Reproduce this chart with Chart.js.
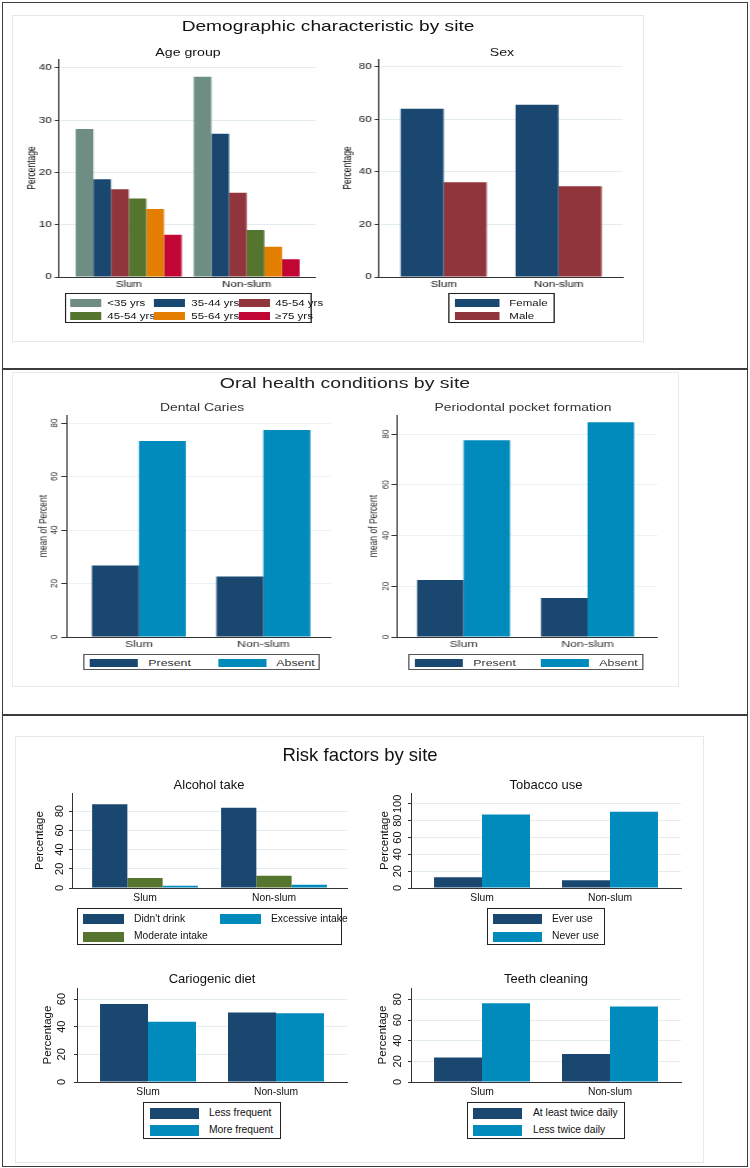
<!DOCTYPE html>
<html><head><meta charset="utf-8">
<script src="https://cdn.jsdelivr.net/npm/chart.js@4.4.1/dist/chart.umd.min.js"></script>
<style>
html,body{margin:0;padding:0;background:#fff;}
body{width:750px;height:1168px;position:relative;overflow:hidden;font-family:'Liberation Sans',Arial,Helvetica,sans-serif;}
.frame{position:absolute;box-sizing:border-box;}
</style></head>
<body>
<script>
// ---------------- DATA ----------------
const sites = ['Slum', 'Non-slum'];

const ageGroups = ['<35 yrs', '35-44 yrs', '45-54 yrs', '45-54 yrs', '55-64 yrs', '\u226575 yrs'];
const ageSlum = [28.3, 18.7, 16.8, 15.0, 13.0, 8.1];
const ageNonSlum = [38.3, 27.4, 16.1, 9.0, 5.8, 3.4];
const ageTicks = [0, 10, 20, 30, 40];

const sexGroups = ['Female', 'Male'];
const sexSlum = [64.0, 36.0];
const sexNonSlum = [65.5, 34.5];
const sexTicks = [0, 20, 40, 60, 80];

const conditionGroups = ['Present', 'Absent'];
const cariesSlum = [26.7, 73.3];
const cariesNonSlum = [22.6, 77.4];
const perioSlum = [22.5, 77.5];
const perioNonSlum = [15.4, 84.6];
const oralTicks = [0, 20, 40, 60, 80];

const alcoholGroups = ["Didn't drink", 'Moderate intake', 'Excessive intake'];
const alcoholSlum = [87.4, 10.3, 2.3];
const alcoholNonSlum = [83.7, 12.8, 3.5];
const alcoholTicks = [0, 20, 40, 60, 80];
const alcoholLegendOrder = [0, 2, 1];

const tobaccoGroups = ['Ever use', 'Never use'];
const tobaccoSlum = [12.7, 87.3];
const tobaccoNonSlum = [9.3, 90.7];
const tobaccoTicks = [0, 20, 40, 60, 80, 100];

const dietGroups = ['Less frequent', 'More frequent'];
const dietSlum = [56.5, 43.5];
const dietNonSlum = [50.2, 49.8];
const dietTicks = [0, 20, 40, 60];

const cleaningGroups = ['At least twice daily', 'Less twice daily'];
const cleaningSlum = [23.8, 76.2];
const cleaningNonSlum = [27.0, 73.0];
const cleaningTicks = [0, 20, 40, 60, 80];

// ---------------- STYLE ----------------
const COL = {navy:'#1a476f', maroon:'#90353b', green:'#55752f', orange:'#e37e00', teal:'#6e8e84', cranberry:'#c10534', blue:'#008bbc'};
const ageColors = [COL.teal, COL.navy, COL.maroon, COL.green, COL.orange, COL.cranberry];
const sexColors = [COL.navy, COL.maroon];
const pairColors = [COL.navy, COL.blue];
const alcoholColors = [COL.navy, COL.green, COL.blue];

const FONT = "'Liberation Sans', Arial, Helvetica, sans-serif";
const AXIS = '#333';
Chart.defaults.font.family = FONT;

// draws vertical (bottom-to-top) y tick labels from the y scale's own ticks
const rotTicks = {
  id: 'rotTicks',
  afterDraw(chart, args, o) {
    if (!o || !o.on) return;
    const sc = chart.scales.y, ctx = chart.ctx;
    ctx.save();
    ctx.font = o.size + 'px ' + FONT;
    ctx.fillStyle = o.color;
    ctx.textAlign = 'center';
    ctx.textBaseline = 'middle';
    sc.ticks.forEach(t => {
      const y = sc.getPixelForValue(t.value);
      ctx.save();
      ctx.translate(o.x, y);
      ctx.rotate(-Math.PI / 2);
      ctx.fillText(String(t.value), 0, 0);
      ctx.restore();
    });
    ctx.restore();
  }
};

function frame(x1, y1, x2, y2, css){
  const d = document.createElement('div'); d.className = 'frame';
  d.style.cssText += `left:${x1}px;top:${y1}px;width:${x2-x1}px;height:${y2-y1}px;${css}`;
  document.body.appendChild(d);
}
function mkPanel(sx){
  const el = document.createElement('div');
  el.style.cssText = `position:absolute;left:0;top:0;width:${750/sx}px;height:1168px;transform:scaleX(${sx});transform-origin:0 0;`;
  document.body.appendChild(el);
  return {el, sx, X: x => x / sx};
}
function label(p, txt, cx, cy, size, color){
  const d = document.createElement('div'); d.textContent = txt;
  d.style.cssText = `position:absolute;left:${p.X(cx)-250}px;width:500px;text-align:center;top:${cy-size*0.6}px;font-size:${size}px;line-height:${size*1.2}px;color:${color};white-space:nowrap;`;
  p.el.appendChild(d);
}
function legend(p, b, names, colors, order){
  const d = document.createElement('div');
  d.style.cssText = `position:absolute;left:${p.X(b.x)}px;top:${b.y}px;width:${b.w/p.sx}px;height:${b.h}px;border:1px solid ${b.border};box-sizing:border-box;background:#fff;`;
  const idx = order || names.map((_, i) => i);
  idx.forEach((i, k) => {
    const r = Math.floor(k / b.cols), c = k % b.cols;
    const sl = b.padX + c * b.colW;
    const cy = b.padY + r * b.rowH + b.rowH / 2;
    const sw = document.createElement('div');
    sw.style.cssText = `position:absolute;left:${sl/p.sx}px;top:${cy-b.swH/2}px;width:${b.swW/p.sx}px;height:${b.swH}px;background:${colors[i]};`;
    d.appendChild(sw);
    const t = document.createElement('div'); t.textContent = names[i];
    t.style.cssText = `position:absolute;left:${(sl+b.swW+b.gap)/p.sx}px;top:${cy-b.size*0.6}px;font-size:${b.size}px;line-height:${b.size*1.2}px;color:${b.color};white-space:nowrap;`;
    d.appendChild(t);
  });
  p.el.appendChild(d);
}

function makeBar(p, s){
  const M = 56, RM = 6, TM = 12, BM = 22, TL = s.tl || 3;
  const cl = s.L - M;
  const W = Math.ceil((s.R + RM - cl) / p.sx);
  const H = (s.B - s.T) + TM + BM;
  const cv = document.createElement('canvas');
  cv.width = W; cv.height = H;
  cv.style.cssText = `position:absolute;left:${p.X(cl)}px;top:${s.T-TM}px;width:${W}px;height:${H}px;`;
  p.el.appendChild(cv);
  const yW = M / p.sx;
  const areaR = (s.R - cl) / p.sx;
  const padR = W - areaR;
  const yPad = s.rotate ? 2 : (s.L - s.tickX) / p.sx - TL;
  const yTitlePad = Math.max(0, (s.yTitleX - cl) / p.sx - s.yTitleSize * 0.6);
  const xPad = (s.xLabelY - s.B) - s.xSize * 0.6;
  new Chart(cv, {
    type: 'bar',
    data: {
      labels: sites.map((_, i) => i),
      datasets: s.groups.map((g, i) => ({
        label: g, data: [s.slum[i], s.non[i]], backgroundColor: s.colors[i],
        borderWidth: 0, categoryPercentage: s.cat, barPercentage: 1
      }))
    },
    plugins: [rotTicks],
    options: {
      responsive: false, animation: false, devicePixelRatio: 1, events: [],
      layout: {padding: {left: 0, right: padR, top: TM, bottom: 0}},
      plugins: {
        legend: {display: false}, tooltip: {enabled: false}, title: {display: false},
        rotTicks: {on: !!s.rotate, x: (s.tickX - cl) / p.sx, size: s.tickSize, color: s.color}
      },
      scales: {
        x: {
          type: 'linear', min: s.xMin, max: s.xMax, offset: false,
          grid: {display: false, drawTicks: false, offset: false},
          border: {display: true, color: AXIS, width: 1},
          afterBuildTicks: sc => { sc.ticks = sites.map((_, i) => ({value: i})); },
          afterFit: sc => { sc.height = BM; },
          ticks: {callback: v => sites[v], font: {size: s.xSize}, color: s.color, padding: xPad, maxRotation: 0, minRotation: 0, autoSkip: false}
        },
        y: {
          type: 'linear', min: 0, max: s.yMax,
          afterBuildTicks: sc => { sc.ticks = s.ticks.map(v => ({value: v})); },
          afterFit: sc => { sc.width = yW; },
          grid: {color: c => (c.tick && c.tick.value === 0) ? 'rgba(0,0,0,0)' : s.grid, tickColor: AXIS, tickLength: TL, tickWidth: 1, lineWidth: 1},
          border: {display: true, color: AXIS, width: 1},
          ticks: {display: !s.rotate, font: {size: s.tickSize}, color: s.color, padding: yPad, autoSkip: false},
          title: {display: true, text: s.yTitle, font: {size: s.yTitleSize}, color: s.color, padding: {top: yTitlePad, bottom: 0}}
        }
      }
    }
  });
}

// ---------------- FRAMES ----------------
frame(12, 15, 644, 342, 'border:1px solid #e2eaee;');
frame(12, 372, 679, 687, 'border:1px solid #e6edf0;');
frame(15, 736, 704, 1163, 'border:1px solid #e2eaee;');
frame(2, 2, 748, 1167, 'border:1.5px solid #3c3c3c;');
frame(2, 368, 748, 370, 'background:#3c3c3c;');
frame(2, 714, 748, 716, 'background:#3c3c3c;');

// ---------------- PANEL 1: Demographics ----------------
const p1 = mkPanel(1.35);
const T1 = '#111', G1 = '#e3ecef';
label(p1, 'Demographic characteristic by site', 328, 27, 14.2, T1);
label(p1, 'Age group', 188, 52, 10.5, T1);
label(p1, 'Sex', 502, 52, 10.5, T1);
makeBar(p1, {L:59, R:316, T:59, B:277, yMax:41.7, ticks:ageTicks, xMin:-0.593, xMax:1.585, cat:0.898,
  groups:ageGroups, colors:ageColors, slum:ageSlum, non:ageNonSlum,
  tickSize:8.5, rotate:false, tickX:52, yTitle:'Percentage', yTitleSize:8.5, yTitleX:32,
  xSize:8.5, xLabelY:285, color:T1, grid:G1});
makeBar(p1, {L:379, R:623, T:59, B:277, yMax:82.9, ticks:sexTicks, xMin:-0.565, xMax:1.557, cat:0.748,
  groups:sexGroups, colors:sexColors, slum:sexSlum, non:sexNonSlum,
  tickSize:8.5, rotate:false, tickX:372, yTitle:'Percentage', yTitleSize:8.5, yTitleX:348,
  xSize:8.5, xLabelY:285, color:T1, grid:G1});
legend(p1, {x:65, y:293, w:247, h:30, cols:3, padX:4, padY:2.5, colW:84, rowH:13, swW:31, swH:8, gap:6, size:8.5, color:T1, border:'#222'}, ageGroups, ageColors);
legend(p1, {x:448, y:293, w:107, h:30, cols:1, padX:5, padY:2.5, colW:0, rowH:13, swW:45, swH:8, gap:10, size:8.5, color:T1, border:'#222'}, sexGroups, sexColors);

// ---------------- PANEL 2: Oral health ----------------
const p2 = mkPanel(1.3);
const T2 = '#333', G2 = '#edf2f4';
label(p2, 'Oral health conditions by site', 345, 383, 15, '#222');
label(p2, 'Dental Caries', 202, 407, 10.7, T2);
label(p2, 'Periodontal pocket formation', 523, 407, 10.7, T2);
makeBar(p2, {L:67, R:332, T:415, B:637, yMax:83, ticks:oralTicks, xMin:-0.582, xMax:1.546, cat:0.755,
  groups:conditionGroups, colors:pairColors, slum:cariesSlum, non:cariesNonSlum,
  tickSize:8, rotate:true, tickX:55, tl:4, yTitle:'mean of Percent', yTitleSize:8.5, yTitleX:44,
  xSize:9.5, xLabelY:644, color:T2, grid:G2});
makeBar(p2, {L:396, R:657, T:415, B:637, yMax:87.5, ticks:oralTicks, xMin:-0.540, xMax:1.565, cat:0.75,
  groups:conditionGroups, colors:pairColors, slum:perioSlum, non:perioNonSlum,
  tickSize:8, rotate:true, tickX:385, tl:4, yTitle:'mean of Percent', yTitleSize:8.5, yTitleX:374,
  xSize:9.5, xLabelY:644, color:T2, grid:G2});
legend(p2, {x:83, y:654, w:237, h:16, cols:2, padX:6, padY:0.5, colW:128, rowH:15, swW:48, swH:8, gap:10, size:9.5, color:T2, border:'#555'}, conditionGroups, pairColors);
legend(p2, {x:408, y:654, w:236, h:16, cols:2, padX:5, padY:0.5, colW:126, rowH:15, swW:48, swH:8, gap:11, size:9.5, color:T2, border:'#555'}, conditionGroups, pairColors);

// ---------------- PANEL 3: Risk factors ----------------
const p3 = mkPanel(1);
const T3 = '#111', G3 = '#e3ecef';
label(p3, 'Risk factors by site', 360, 755, 18.5, T3);
label(p3, 'Alcohol take', 209, 785, 13, T3);
label(p3, 'Tobacco use', 546, 785, 13, T3);
label(p3, 'Cariogenic diet', 212, 979, 13, T3);
label(p3, 'Teeth cleaning', 546, 979, 13, T3);
makeBar(p3, {L:72, R:347, T:793, B:888, yMax:99, ticks:alcoholTicks, xMin:-0.566, xMax:1.566, cat:0.82,
  groups:alcoholGroups, colors:alcoholColors, slum:alcoholSlum, non:alcoholNonSlum,
  tickSize:11, rotate:true, tickX:60, yTitle:'Percentage', yTitleSize:11.5, yTitleX:40,
  xSize:10.3, xLabelY:898, color:T3, grid:G3});
makeBar(p3, {L:411, R:681, T:793, B:888, yMax:113, ticks:tobaccoTicks, xMin:-0.555, xMax:1.555, cat:0.75,
  groups:tobaccoGroups, colors:pairColors, slum:tobaccoSlum, non:tobaccoNonSlum,
  tickSize:11, rotate:true, tickX:398, yTitle:'Percentage', yTitleSize:11.5, yTitleX:385,
  xSize:10.3, xLabelY:898, color:T3, grid:G3});
makeBar(p3, {L:77, R:347, T:988, B:1082, yMax:68, ticks:dietTicks, xMin:-0.555, xMax:1.555, cat:0.75,
  groups:dietGroups, colors:pairColors, slum:dietSlum, non:dietNonSlum,
  tickSize:11, rotate:true, tickX:62, yTitle:'Percentage', yTitleSize:11.5, yTitleX:48,
  xSize:10.3, xLabelY:1092, color:T3, grid:G3});
makeBar(p3, {L:411, R:681, T:988, B:1082, yMax:91, ticks:cleaningTicks, xMin:-0.555, xMax:1.555, cat:0.75,
  groups:cleaningGroups, colors:pairColors, slum:cleaningSlum, non:cleaningNonSlum,
  tickSize:11, rotate:true, tickX:398, yTitle:'Percentage', yTitleSize:11.5, yTitleX:383,
  xSize:10.3, xLabelY:1092, color:T3, grid:G3});
legend(p3, {x:77, y:908, w:265, h:37, cols:2, padX:5, padY:1.25, colW:137, rowH:17.5, swW:41, swH:10, gap:10, size:10.3, color:T3, border:'#222'}, alcoholGroups, alcoholColors, alcoholLegendOrder);
legend(p3, {x:487, y:908, w:118, h:37, cols:1, padX:5, padY:1.25, colW:0, rowH:17.5, swW:49, swH:10, gap:10, size:10.3, color:T3, border:'#222'}, tobaccoGroups, pairColors);
legend(p3, {x:143, y:1102, w:138, h:37, cols:1, padX:6, padY:1.5, colW:0, rowH:17, swW:49, swH:11, gap:10, size:10.3, color:T3, border:'#222'}, dietGroups, pairColors);
legend(p3, {x:467, y:1102, w:158, h:37, cols:1, padX:5, padY:1.5, colW:0, rowH:17, swW:49, swH:11, gap:11, size:10.3, color:T3, border:'#222'}, cleaningGroups, pairColors);
</script>
</body></html>
